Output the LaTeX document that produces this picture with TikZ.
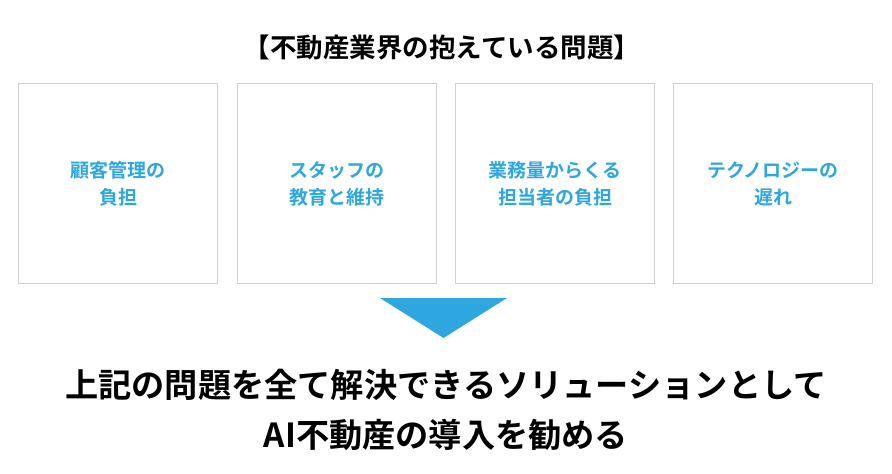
\documentclass[tikz,border=0pt]{standalone}
\usepackage{fontspec}
\setmainfont{Noto Sans CJK JP}[BoldFont={Noto Sans CJK JP Bold}]
\definecolor{blu}{HTML}{2EA7E0}
\definecolor{gry}{HTML}{D0D0D0}
\begin{document}
\begin{tikzpicture}[x=1pt,y=-1pt,
  card/.style={draw=gry,line width=1pt,minimum width=199pt,minimum height=200pt,anchor=north west,inner sep=0pt},
  lbl/.style={text=blu,font=\bfseries\fontsize{19}{27}\selectfont,align=center}]
\useasboundingbox[fill=white] (0,0) rectangle (892,474);
\node[font=\bfseries\fontsize{26.5}{30}\selectfont,inner sep=0pt] (title) at (442,47) {【不動産業界の抱えている問題】};
\node[card] (b1) at (18,83) {};
\node[card] (b2) at (237,83) {};
\node[card] (b3) at (455,83) {};
\node[card] (b4) at (673,83) {};
\node[lbl] (t1) at (b1.center) {顧客管理の\\負担};
\node[lbl] (t2) at (b2.center) {スタッフの\\教育と維持};
\node[lbl] (t3) at (b3.center) {業務量からくる\\担当者の負担};
\node[lbl] (t4) at (b4.center) {テクノロジーの\\遅れ};
\fill[blu] (380,298) -- (507,298) -- (443.5,338) -- cycle;
\node[font=\bfseries\fontsize{33.2}{50}\selectfont,align=center] (msg) at (446,410) {上記の問題を全て解決できるソリューションとして\\AI不動産の導入を勧める};
\end{tikzpicture}
\end{document}
